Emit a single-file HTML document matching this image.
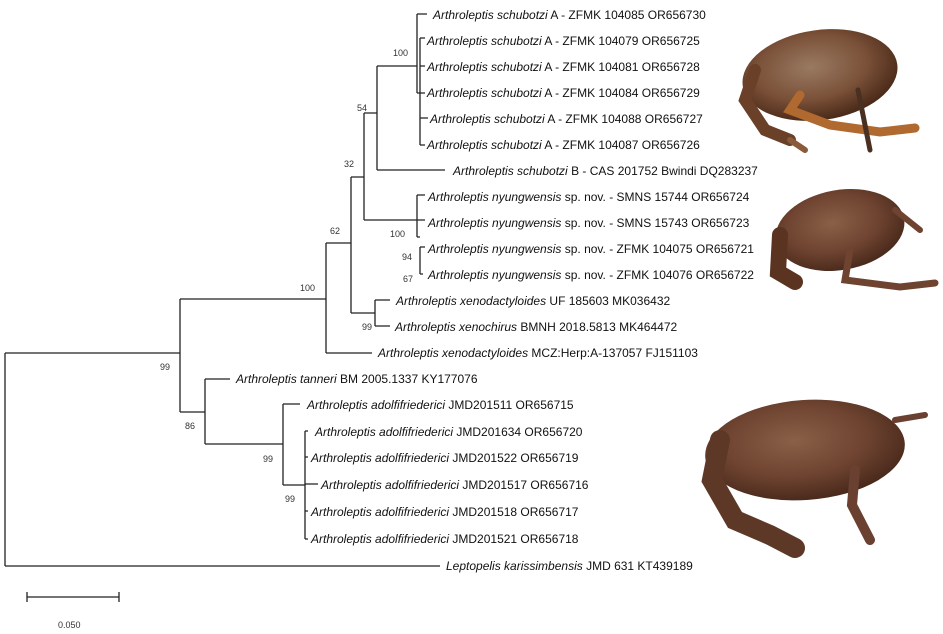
<!DOCTYPE html>
<html><head><meta charset="utf-8"><style>
html,body{margin:0;padding:0;background:#fff;}
svg{display:block;}
text{font-family:"Liberation Sans",sans-serif;font-size:12px;fill:#111;}
.b{font-size:9px;fill:#333;}
</style></head><body>
<svg width="943" height="634" viewBox="0 0 943 634" xmlns="http://www.w3.org/2000/svg">
<defs>
<radialGradient id="fg" cx="45%" cy="40%" r="60%"><stop offset="0" stop-color="#8a6048"/><stop offset="0.6" stop-color="#6e4330"/><stop offset="1" stop-color="#4a2a1c"/></radialGradient>
<radialGradient id="fg2" cx="45%" cy="40%" r="60%"><stop offset="0" stop-color="#9a7a62"/><stop offset="0.6" stop-color="#7a5038"/><stop offset="1" stop-color="#4a2a18"/></radialGradient>
</defs>
<g stroke="#222" stroke-width="1.3" fill="none">
<path d="M5 353V566M5 353H180M5 566H440"/>
<path d="M180 299V412M180 299H326M180 412H205"/>
<path d="M326 243V353M326 243H351M326 353H372"/>
<path d="M351 177V313M351 177H364M351 313H375"/>
<path d="M375 300V326M375 300H390M375 326H390"/>
<path d="M364 113V220M364 113H377M364 220H417"/>
<path d="M377 66V170M377 66H417M377 170H445"/>
<path d="M417 14V93M417 14H427M417 93H420M420 38V145M420 38H425M420 66H425M420 93H425M420 118H428M420 145H425"/>
<path d="M417 195V237M417 195H425M417 220H425M417 237H420M420 247V274M420 247H425M420 274H423"/>
<path d="M205 379V444M205 379H230M205 444H283"/>
<path d="M283 404V485M283 404H300M283 485H305"/>
<path d="M305 431V539M305 431H308M305 484H318M305 457H308M305 511H308M305 539H308"/>
<path d="M27 597H119M27 592V602M119 592V602"/>
</g>
<text x="433" y="19"><tspan font-style="italic">Arthroleptis schubotzi</tspan> A - ZFMK 104085 OR656730</text>
<text x="427" y="45"><tspan font-style="italic">Arthroleptis schubotzi</tspan> A - ZFMK 104079 OR656725</text>
<text x="427" y="71"><tspan font-style="italic">Arthroleptis schubotzi</tspan> A - ZFMK 104081 OR656728</text>
<text x="427" y="97"><tspan font-style="italic">Arthroleptis schubotzi</tspan> A - ZFMK 104084 OR656729</text>
<text x="430" y="123"><tspan font-style="italic">Arthroleptis schubotzi</tspan> A - ZFMK 104088 OR656727</text>
<text x="427" y="149"><tspan font-style="italic">Arthroleptis schubotzi</tspan> A - ZFMK 104087 OR656726</text>
<text x="453" y="175"><tspan font-style="italic">Arthroleptis schubotzi</tspan> B - CAS 201752 Bwindi DQ283237</text>
<text x="428" y="201"><tspan font-style="italic">Arthroleptis nyungwensis</tspan> sp. nov. - SMNS 15744 OR656724</text>
<text x="428" y="227"><tspan font-style="italic">Arthroleptis nyungwensis</tspan> sp. nov. - SMNS 15743 OR656723</text>
<text x="428" y="253"><tspan font-style="italic">Arthroleptis nyungwensis</tspan> sp. nov. - ZFMK 104075 OR656721</text>
<text x="428" y="279"><tspan font-style="italic">Arthroleptis nyungwensis</tspan> sp. nov. - ZFMK 104076 OR656722</text>
<text x="396" y="305"><tspan font-style="italic">Arthroleptis xenodactyloides</tspan> UF 185603 MK036432</text>
<text x="395" y="331"><tspan font-style="italic">Arthroleptis xenochirus</tspan> BMNH 2018.5813 MK464472</text>
<text x="378" y="357"><tspan font-style="italic">Arthroleptis xenodactyloides</tspan> MCZ:Herp:A-137057 FJ151103</text>
<text x="236" y="383"><tspan font-style="italic">Arthroleptis tanneri</tspan> BM 2005.1337 KY177076</text>
<text x="307" y="409"><tspan font-style="italic">Arthroleptis adolfifriederici</tspan> JMD201511 OR656715</text>
<text x="315" y="436"><tspan font-style="italic">Arthroleptis adolfifriederici</tspan> JMD201634 OR656720</text>
<text x="311" y="462"><tspan font-style="italic">Arthroleptis adolfifriederici</tspan> JMD201522 OR656719</text>
<text x="321" y="489"><tspan font-style="italic">Arthroleptis adolfifriederici</tspan> JMD201517 OR656716</text>
<text x="311" y="516"><tspan font-style="italic">Arthroleptis adolfifriederici</tspan> JMD201518 OR656717</text>
<text x="311" y="543"><tspan font-style="italic">Arthroleptis adolfifriederici</tspan> JMD201521 OR656718</text>
<text x="446" y="570"><tspan font-style="italic">Leptopelis karissimbensis</tspan> JMD 631 KT439189</text>
<text class="b" x="393" y="56">100</text>
<text class="b" x="357" y="111">54</text>
<text class="b" x="344" y="167">32</text>
<text class="b" x="330" y="234">62</text>
<text class="b" x="300" y="291">100</text>
<text class="b" x="390" y="237">100</text>
<text class="b" x="402" y="260">94</text>
<text class="b" x="403" y="282">67</text>
<text class="b" x="362" y="330">99</text>
<text class="b" x="160" y="370">99</text>
<text class="b" x="185" y="429">86</text>
<text class="b" x="263" y="462">99</text>
<text class="b" x="285" y="502">99</text>
<text class="b" x="58" y="628">0.050</text>
<!-- top frog -->
<g stroke-linecap="round" fill="none">
<ellipse cx="820" cy="75" rx="78" ry="45" fill="url(#fg2)" transform="rotate(-8 820 75)"/>
<path d="M755 70 L745 100 L765 130 L790 140" stroke="#6a4028" stroke-width="12"/>
<path d="M800 95 L790 110 L830 125 L880 132 L915 128" stroke="#b06a30" stroke-width="9"/>
<path d="M858 90 L865 125 L870 150" stroke="#4a3020" stroke-width="5"/>
<path d="M790 140 L805 150" stroke="#8a5a3a" stroke-width="6"/>
</g>
<!-- middle frog -->
<g stroke-linecap="round" fill="none">
<ellipse cx="840" cy="230" rx="65" ry="40" fill="url(#fg)" transform="rotate(-10 840 230)"/>
<path d="M780 235 L778 272 L795 282" stroke="#5a3420" stroke-width="16"/>
<path d="M850 250 L845 280 L900 287 L935 283" stroke="#6e4330" stroke-width="7"/>
<path d="M895 210 L920 230" stroke="#6e4330" stroke-width="6"/>
</g>
<!-- bottom frog -->
<g stroke-linecap="round" fill="none">
<ellipse cx="805" cy="450" rx="100" ry="50" fill="url(#fg)" transform="rotate(-4 805 450)"/>
<path d="M720 440 L712 480 L735 520 L770 535 L795 548" stroke="#5e3826" stroke-width="20"/>
<path d="M855 470 L852 505 L870 540" stroke="#6a4030" stroke-width="10"/>
<path d="M895 420 L925 415" stroke="#6a4030" stroke-width="6"/>
</g>
</svg>
</body></html>
